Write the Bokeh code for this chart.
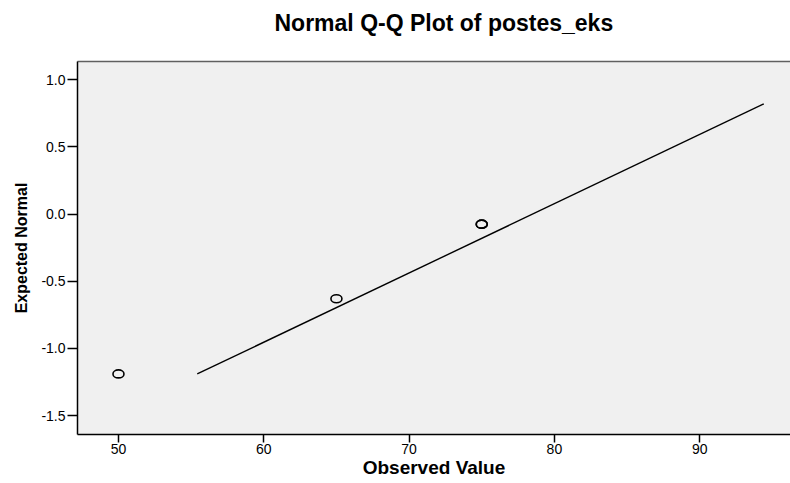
from bokeh.plotting import figure
from bokeh.models import Range1d, FixedTicker, LinearAxis
from bokeh.embed import file_html
from bokeh.resources import INLINE

# ---- data ----
observed = [50, 65, 75, 75]
expected_normal = [-1.19, -0.63, -0.075, -0.075]
line_x = [55.42, 94.41]
line_y = [-1.19, 0.82]
x_ticks = [50, 60, 70, 80, 90]
x_tick_labels = ["50", "60", "70", "80", "90"]
y_ticks = [-1.5, -1.0, -0.5, 0.0, 0.5, 1.0]
y_tick_labels = ["-1.5", "-1.0", "-0.5", "0.0", "0.5", "1.0"]

FONT = "Liberation Sans"

p = figure(width=790, height=483, output_backend="svg", toolbar_location=None,
           x_range=Range1d(47.18, 96.25), y_range=Range1d(-1.641, 1.136),
           min_border_left=77, min_border_right=0, min_border_top=61,
           min_border_bottom=49,
           background_fill_color="#F0F0F0", border_fill_color="white",
           outline_line_color=None)
p.grid.visible = False

p.title.text = "Normal Q-Q Plot of postes_eks"
p.title.align = "left"
p.title.vertical_align = "bottom"
p.title.text_font = FONT
p.title.text_font_size = "23px"
p.title.text_font_style = "bold"
p.title.text_color = "black"
p.title.standoff = 4
p.title.offset = 197

xa = p.xaxis[0]
xa.ticker = FixedTicker(ticks=x_ticks)
xa.major_label_overrides = {t: l for t, l in zip(x_ticks, x_tick_labels)}
xa.axis_label = "Observed Value"
ya = p.yaxis[0]
ya.ticker = FixedTicker(ticks=y_ticks)
ya.major_label_overrides = {t: l for t, l in zip(y_ticks, y_tick_labels)}
ya.axis_label = "Expected Normal"

for ax in (xa, ya):
    ax.axis_line_color = "black"
    ax.axis_line_width = 1.5
    ax.major_tick_line_color = "black"
    ax.major_tick_line_width = 1.5
    ax.major_tick_in = 0
    ax.minor_tick_line_color = None
    ax.major_label_text_font = FONT
    ax.major_label_text_font_size = "14px"
    ax.major_label_text_color = "black"
    ax.axis_label_text_font = FONT
    ax.axis_label_text_font_style = "bold"
    ax.axis_label_text_color = "black"

xa.major_tick_out = 8
xa.major_label_standoff = 1
xa.axis_label_text_font_size = "19px"
xa.axis_label_standoff = 0
ya.major_tick_out = 10
ya.major_label_standoff = 2
ya.axis_label_text_font_size = "16px"
ya.axis_label_standoff = 8

# top border of the plot frame: an axis whose single tick is invisible;
# its tick length only reserves the white space under the title
top = LinearAxis(ticker=FixedTicker(ticks=x_ticks[:1]),
                 major_label_overrides={x_ticks[0]: ""},
                 axis_line_color="#606060", axis_line_width=1.5,
                 major_tick_line_color=None, major_tick_in=0,
                 major_tick_out=24, major_label_standoff=0,
                 minor_tick_line_color=None, major_label_text_font_size="1px")
p.add_layout(top, "above")

p.line(line_x, line_y, line_color="black", line_width=1.4)
p.ellipse(x=observed, y=expected_normal, width=11, height=8,
          width_units="screen", height_units="screen",
          fill_color=None, line_color="black", line_width=1.6)

open("out.html", "w").write(file_html(p, INLINE))
